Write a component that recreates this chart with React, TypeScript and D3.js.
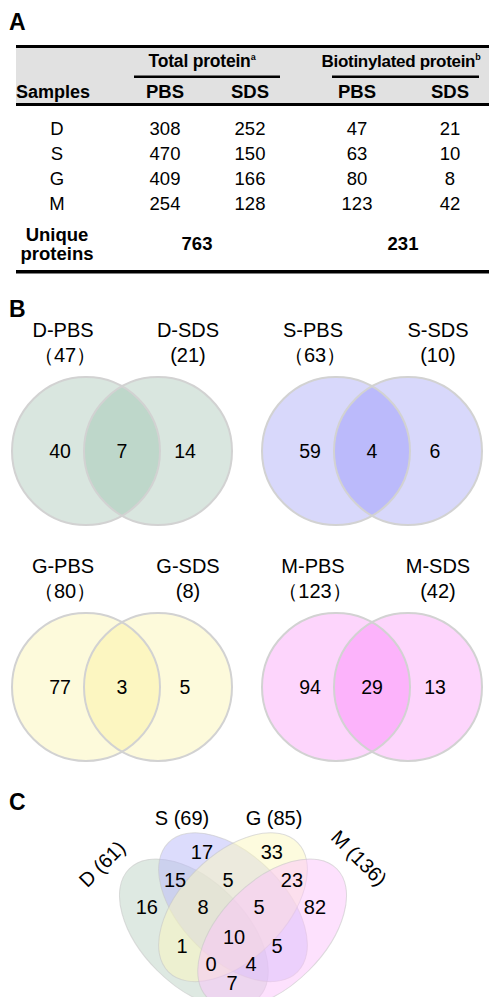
import React from "react";
import * as d3 from "d3";

// ---------- Panel A data ----------
const samples = ["D", "S", "G", "M"];
const totalPBS = [308, 470, 409, 254];
const totalSDS = [252, 150, 166, 128];
const biotinPBS = [47, 63, 80, 123];
const biotinSDS = [21, 10, 8, 42];
const uniqueTotal = 763;
const uniqueBiotin = 231;

// ---------- Panel B data ----------
const pairNames = ["D", "S", "G", "M"];
const pairPbsTotal = [47, 63, 80, 123];
const pairSdsTotal = [21, 10, 8, 42];
const pairPbsOnly = [40, 59, 77, 94];
const pairShared = [7, 4, 3, 29];
const pairSdsOnly = [14, 6, 5, 13];
const pairColors = [
  ["#d9e6df", "#bed7ca"],
  ["#d8d8fb", "#bbbafb"],
  ["#fdfadb", "#fcf6c1"],
  ["#fdd5fc", "#fcb3fb"],
];

// ---------- Panel C data ----------
const quadSets = ["D", "S", "G", "M"];
const quadTotals = [61, 69, 85, 136];
const quadColors = ["#bed4c6", "#b9b9fa", "#fcf8be", "#fcc4fc"];
const quadRegionSets = ["D", "S", "G", "M", "DS", "SG", "GM", "DSG", "SGM", "DSGM", "DG", "SM", "DGM", "DSM", "DM"];
const quadRegionValues = [16, 17, 33, 82, 15, 5, 23, 8, 5, 10, 1, 5, 0, 4, 7];
// label anchors in unit venn space (layout)
const quadLabelX = [0.17, 0.381, 0.649, 0.814, 0.278, 0.481, 0.726, 0.385, 0.6, 0.504, 0.305, 0.669, 0.416, 0.569, 0.496];
const quadLabelY = [0.571, 0.782, 0.782, 0.571, 0.674, 0.674, 0.674, 0.571, 0.571, 0.456, 0.421, 0.421, 0.352, 0.352, 0.28];
// ellipse layout in unit space
const quadEllX = [0.35, 0.5, 0.5, 0.65];
const quadEllY = [0.47, 0.57, 0.57, 0.47];
const quadEllRot = [45, 45, -45, -45];

const FONT = "'Liberation Sans', Arial, Helvetica, sans-serif";

export default function App() {
  const W = 489;
  const H = 997;

  // Panel A scales
  const colX = d3
    .scaleOrdinal<string, number>()
    .domain(["label", "tPBS", "tSDS", "bPBS", "bSDS"])
    .range([57, 165, 250, 357, 450]);
  const rowY = d3.scalePoint<string>().domain(samples).range([135, 210]);

  // Panel B
  const bColX = d3.scaleOrdinal<number, number>().domain([0, 1, 2, 3]).range([122, 372, 122, 372]);
  const bRowY = d3.scaleOrdinal<number, number>().domain([0, 1, 2, 3]).range([451, 451, 687, 687]);
  const R = 74;
  const off = 36;

  // Panel C
  const s = 261;
  const ux = d3.scaleLinear().domain([0, 1]).range([102.5, 102.5 + s]);
  const uy = d3.scaleLinear().domain([0, 1]).range([1056, 1056 - s]);
  const ea = 0.35 * s;
  const eb = 0.2 * s;

  const tableCell = (txt: string | number, x: number, y: number, bold = false, key?: string) => (
    <text key={key} x={x} y={y} textAnchor="middle" fontSize={18.5} fontWeight={bold ? "bold" : "normal"}>
      {txt}
    </text>
  );

  return (
    <svg
      width={W}
      height={H}
      style={{ position: "absolute", left: 0, top: 0, background: "#fff" }}
      fontFamily={FONT}
    >
      <rect x={0} y={0} width={W} height={H} fill="#fff" />
      {/* ---------- Panel A ---------- */}
      <text x={9} y={30} fontSize={23} fontWeight="bold">A</text>
      <rect x={16} y={47} width={W - 16} height={57} fill="#e1e1e1" />
      <rect x={16} y={45} width={W - 16} height={3} fill="#000" />
      <rect x={16} y={103} width={W - 16} height={3} fill="#000" />
      <rect x={134} y={75.5} width={146} height={2.5} fill="#000" />
      <rect x={332} y={75.5} width={147} height={2.5} fill="#000" />
      <text x={202} y={67} textAnchor="middle" fontSize={17.5} fontWeight="bold" letterSpacing={-0.2}>
        Total protein<tspan fontSize={9} dy={-7}>a</tspan>
      </text>
      <text x={401} y={67} textAnchor="middle" fontSize={17} fontWeight="bold" letterSpacing={-0.3}>
        Biotinylated protein<tspan fontSize={9} dy={-7}>b</tspan>
      </text>
      <text x={16} y={98} fontSize={18} fontWeight="bold">Samples</text>
      {tableCell("PBS", colX("tPBS"), 98, true)}
      {tableCell("SDS", colX("tSDS"), 98, true)}
      {tableCell("PBS", colX("bPBS"), 98, true)}
      {tableCell("SDS", colX("bSDS"), 98, true)}
      {samples.map((sm, i) => (
        <g key={sm}>
          {tableCell(sm, colX("label"), rowY(sm)!)}
          {tableCell(totalPBS[i], colX("tPBS"), rowY(sm)!)}
          {tableCell(totalSDS[i], colX("tSDS"), rowY(sm)!)}
          {tableCell(biotinPBS[i], colX("bPBS"), rowY(sm)!)}
          {tableCell(biotinSDS[i], colX("bSDS"), rowY(sm)!)}
        </g>
      ))}
      {tableCell("Unique", colX("label"), 241, true)}
      {tableCell("proteins", colX("label"), 260, true)}
      {tableCell(uniqueTotal, 197, 250, true)}
      {tableCell(uniqueBiotin, 403, 250, true)}
      <rect x={16} y={270} width={W - 16} height={3.5} fill="#000" />

      {/* ---------- Panel B ---------- */}
      <text x={9} y={317} fontSize={23} fontWeight="bold">B</text>
      <defs>
        {pairNames.map((n, i) => (
          <clipPath id={`clipB${i}`} key={n}>
            <circle cx={bColX(i) - off} cy={bRowY(i)} r={R} />
          </clipPath>
        ))}
      </defs>
      {pairNames.map((n, i) => {
        const cx = bColX(i);
        const cy = bRowY(i);
        const labY = cy - 114;
        return (
          <g key={n}>
            <circle cx={cx - off} cy={cy} r={R} fill={pairColors[i][0]} />
            <circle cx={cx + off} cy={cy} r={R} fill={pairColors[i][0]} />
            <circle cx={cx + off} cy={cy} r={R} fill={pairColors[i][1]} clipPath={`url(#clipB${i})`} />
            <circle cx={cx - off} cy={cy} r={R} fill="none" stroke="#d2d2d2" strokeWidth={2} />
            <circle cx={cx + off} cy={cy} r={R} fill="none" stroke="#d2d2d2" strokeWidth={2} />
            <text x={cx - 59} y={labY} textAnchor="middle" fontSize={20}>{`${n}-PBS`}</text>
            <text x={cx + 66} y={labY} textAnchor="middle" fontSize={20}>{`${n}-SDS`}</text>
            <text x={cx - 57} y={labY + 25} textAnchor="middle" fontSize={20}>{`（${pairPbsTotal[i]}）`}</text>
            <text x={cx + 66} y={labY + 25} textAnchor="middle" fontSize={20}>{`(${pairSdsTotal[i]})`}</text>
            <text x={cx - 62} y={cy + 7} textAnchor="middle" fontSize={19.5}>{pairPbsOnly[i]}</text>
            <text x={cx} y={cy + 7} textAnchor="middle" fontSize={19.5}>{pairShared[i]}</text>
            <text x={cx + 63} y={cy + 7} textAnchor="middle" fontSize={19.5}>{pairSdsOnly[i]}</text>
          </g>
        );
      })}

      {/* ---------- Panel C ---------- */}
      <text x={9} y={810} fontSize={23} fontWeight="bold">C</text>
      {quadSets.map((n, i) => (
        <ellipse
          key={n}
          cx={ux(quadEllX[i])}
          cy={uy(quadEllY[i])}
          rx={ea}
          ry={eb}
          transform={`rotate(${quadEllRot[i]} ${ux(quadEllX[i])} ${uy(quadEllY[i])})`}
          fill={quadColors[i]}
          fillOpacity={0.5}
          stroke="#c8c8c8"
          strokeOpacity={0.6}
          strokeWidth={1}
        />
      ))}
      {quadRegionSets.map((r, i) => (
        <text key={r} x={ux(quadLabelX[i])} y={uy(quadLabelY[i]) + 7.2} textAnchor="middle" fontSize={20}>
          {quadRegionValues[i]}
        </text>
      ))}
      <text x={182} y={825} textAnchor="middle" fontSize={20}>{`${quadSets[1]} (${quadTotals[1]})`}</text>
      <text x={274} y={825} textAnchor="middle" fontSize={20}>{`${quadSets[2]} (${quadTotals[2]})`}</text>
      <text
        x={102}
        y={864}
        textAnchor="middle"
        dominantBaseline="central"
        fontSize={20}
        transform="rotate(-45 102 864)"
      >{`${quadSets[0]} (${quadTotals[0]})`}</text>
      <text
        x={359}
        y={858}
        textAnchor="middle"
        dominantBaseline="central"
        fontSize={20}
        transform="rotate(45 359 858)"
      >{`${quadSets[3]} (${quadTotals[3]})`}</text>
    </svg>
  );
}
